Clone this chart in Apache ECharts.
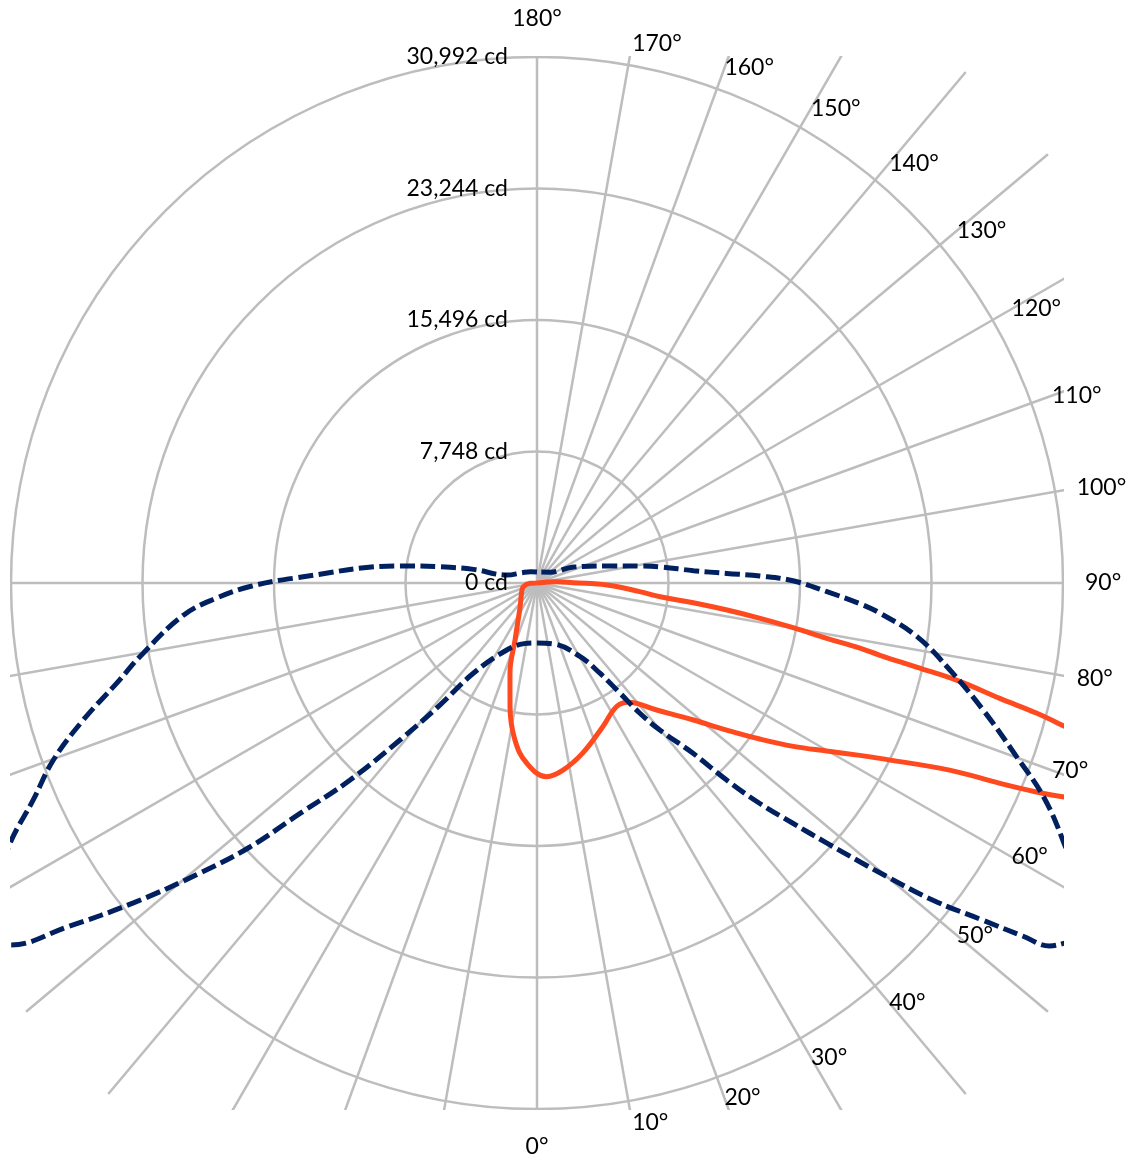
<!DOCTYPE html>
<html>
<head>
<meta charset="utf-8">
<script src="https://cdn.jsdelivr.net/npm/echarts@6/dist/echarts.min.js"></script>
<style>
html,body{margin:0;padding:0;background:#fff;}
#chart{width:1133px;height:1160px;}
</style>
</head>
<body>
<div id="chart"></div>
<script>
// ---------- data ----------
const radiusTicks = [0, 7748, 15496, 23244, 30992];            // cd rings
const angleTickValues = [0, 10, 20, 30, 40, 50, 60, 70, 80, 90, 100, 110, 120, 130, 140, 150, 160, 170, 180];
const angleTickLabels = ['0°', '10°', '20°', '30°', '40°', '50°', '60°', '70°', '80°', '90°', '100°', '110°', '120°', '130°', '140°', '150°', '160°', '170°', '180°'];

// solid orange-red curve: angle (deg, 0 = down, + = right side), intensity (cd)
const redAngles = [-180, -87.5, -74.9, -60.4, -35.6, -21.1, -16.7, -12.3, -8, -3.3, 2.9, 7.9, 15.1, 24.6, 32.8, 37.4, 43.3, 48.8, 52.2, 55, 57.5, 59.9, 61.9, 62.9, 65.6, 66.6, 67.3, 67.9, 69.2, 71.3, 73.4, 74.8, 75.4, 76, 76.9, 77.5, 78.1, 78.6, 79.2, 80.1, 81, 81.9, 82.8, 83.6, 85.2, 88.4, 90.5, 93.8, 180];
const redValues = [0, 412, 837, 1037, 1709, 3594, 5539, 7459, 9339, 10623, 11431, 11136, 10370, 9309, 8661, 8838, 10282, 12255, 14141, 16026, 17912, 19738, 21565, 22684, 26691, 29725, 31905, 33525, 37120, 43307, 36943, 32200, 30403, 28105, 25571, 22914, 20651, 19414, 17382, 15319, 13316, 11313, 9280, 7306, 6069, 4124, 2121, 1178, 0];

// dashed navy curve
const blueAngles = [-180, -150, -125, -104.8, -102.1, -99.5, -97.1, -91.1, -89.3, -87.3, -84.8, -79.9, -76.6, -73.2, -69.9, -66.7, -63.7, -60, -57.5, -55.5, -53.8, -51.6, -49.3, -47.4, -45.8, -43.5, -41.1, -38.5, -35.2, -24.3, -12, 0, 15, 30.3, 34.9, 37, 38.3, 39.9, 42.5, 43.9, 45.3, 46.8, 48.1, 49.2, 49.8, 51.3, 52.9, 54, 54.7, 55.7, 57.5, 60, 63.7, 67.1, 70.1, 74.1, 78.1, 82, 85, 86.3, 88.3, 90.5, 91.8, 92.9, 94.5, 97.5, 99.4, 103.7, 113.4, 129.5, 180];
const blueValues = [648, 766, 1061, 1827, 3830, 5774, 8131, 14376, 16910, 18913, 20917, 23568, 25453, 27928, 30344, 32318, 34645, 37120, 38652, 37650, 34321, 30344, 26219, 22979, 19473, 16026, 12255, 9192, 6511, 4331, 3653, 3535, 3712, 5008, 6481, 8131, 9781, 11313, 13611, 16115, 18471, 20681, 22949, 25159, 26455, 29902, 32936, 35411, 37002, 37650, 38652, 37120, 34645, 32406, 30049, 27339, 24864, 22596, 20268, 19090, 17087, 15084, 13139, 11195, 9250, 7306, 6128, 4242, 2357, 1002, 648];

// ---------- layout / style ----------
const CX = 537, CY = 583, R = 526, SPOKE_R = 667, HALF = 527;
const W = 1133, H = 1160;
const FONT = 'Lato, "Open Sans", sans-serif';
const GRID = '#bdbdbd', NONE = 'rgba(0,0,0,0)';
const rMax = radiusTicks[radiusTicks.length - 1];
const step = radiusTicks[1];
const rMax0 = rMax * SPOKE_R / R;

const spokeColors = [];
for (let v = -180; v <= 180; v += 10) spokeColors.push((v >= -90 || v === -180) ? GRID : NONE);
const ringColors = [];
for (let v = 0; v <= rMax0 + step; v += step) ringColors.push(v <= rMax ? GRID : NONE);

const masks = [
  [0, 0, W, CY - HALF],
  [0, CY + HALF, W, H - (CY + HALF)],
  [0, 0, CX - HALF, H],
  [CX + HALF, 0, W - (CX + HALF), H]
].map(r => ({ type: 'rect', z: 50, silent: true, shape: { x: r[0], y: r[1], width: r[2], height: r[3] }, style: { fill: '#ffffff' } }));

const angleLabels = angleTickValues.map((v, i) => {
  const a = v * Math.PI / 180;
  const vertical = (v === 0 || v === 180);
  const d = vertical ? 564 : 548;
  return {
    type: 'text', z: 60, silent: true,
    x: CX + d * Math.sin(a), y: CY + d * Math.cos(a),
    style: { text: angleTickLabels[i], fontSize: 23, fontFamily: FONT, fill: '#000', align: vertical ? 'center' : 'left', verticalAlign: 'middle' }
  };
});

const chart = echarts.init(document.getElementById('chart'), null, { renderer: 'canvas' });
chart.setOption({
  animation: false,
  backgroundColor: '#ffffff',
  polar: [
    { center: [CX, CY], radius: SPOKE_R },
    { center: [CX, CY], radius: R }
  ],
  angleAxis: [
    { polarIndex: 0, type: 'value', min: -180, max: 180, interval: 10, startAngle: 90, clockwise: false,
      axisLine: { show: false }, axisTick: { show: false }, axisLabel: { show: false },
      splitLine: { show: true, lineStyle: { color: spokeColors, width: 2.5 } } },
    { polarIndex: 1, type: 'value', min: -180, max: 180, interval: 10, startAngle: 90, clockwise: false,
      axisLine: { show: false }, axisTick: { show: false }, axisLabel: { show: false }, splitLine: { show: false } }
  ],
  radiusAxis: [
    { polarIndex: 0, type: 'value', min: 0, max: rMax0, interval: step,
      axisLine: { show: false }, axisTick: { show: false }, axisLabel: { show: false },
      splitLine: { show: true, lineStyle: { color: ringColors, width: 2.5 } } },
    { polarIndex: 1, type: 'value', min: 0, max: rMax, interval: step, z: 60,
      axisLine: { show: false }, axisTick: { show: false }, splitLine: { show: false },
      axisLabel: { show: true, margin: 29, fontSize: 23, fontFamily: FONT, color: '#000',
        showMinLabel: true, showMaxLabel: true,
        formatter: v => Number(v).toLocaleString('en-US') + ' cd' } }
  ],
  graphic: { elements: masks.concat(angleLabels) },
  series: [
    { type: 'line', coordinateSystem: 'polar', polarIndex: 0, z: 3, clip: false,
      data: redAngles.map((a, i) => [redValues[i], a]),
      smooth: 0.4, showSymbol: false, symbol: 'none',
      lineStyle: { color: '#ff4a1f', width: 5 } },
    { type: 'line', coordinateSystem: 'polar', polarIndex: 0, z: 4, clip: false,
      data: blueAngles.map((a, i) => [blueValues[i], a]),
      smooth: 0.4, showSymbol: false, symbol: 'none',
      lineStyle: { color: '#002060', width: 5, type: [15, 5.5] } }
  ]
});
</script>
</body>
</html>
